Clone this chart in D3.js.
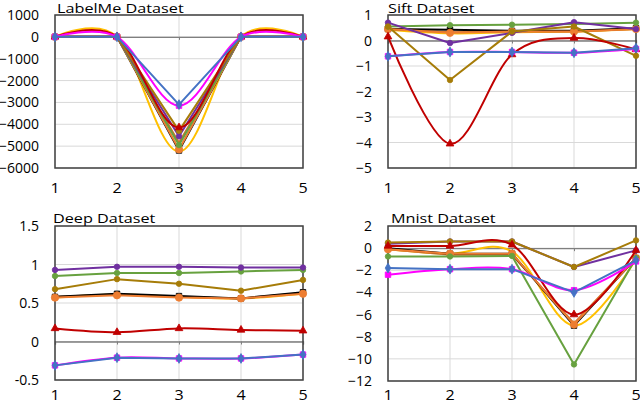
<!DOCTYPE html>
<html><head><meta charset="utf-8">
<script src="https://cdn.jsdelivr.net/npm/d3@7"></script>
<style>html,body{margin:0;padding:0;background:#fff;}svg{display:block;font-family:"Open Sans",sans-serif;}</style>
</head><body>
<svg id="c" width="640" height="404"></svg>
<script>
const categories = [1, 2, 3, 4, 5];
const seriesKeys = ["s1", "s2", "s3", "s4", "s5", "s6", "s7", "s8", "s9", "s10"];

// values per dataset, in seriesKeys order
const labelmeValues = [
  [0, 0, -3100, 0, 0],
  [0, 0, -3150, 0, 0],
  [0, 0, -4150, 0, 0],
  [0, 0, -4300, 0, 0],
  [0, 0, -4550, 0, 0],
  [0, 0, -4950, 0, 0],
  [0, 0, -5200, 0, 0],
  [0, 0, -5150, 0, 0],
  [0, 0, -5250, 0, 0],
  [0, 0, -4850, 0, 0]
];
const siftValues = [
  [-0.62, -0.45, -0.45, -0.48, -0.30],
  [-0.62, -0.45, -0.45, -0.48, -0.33],
  [0.15, -4.05, -0.55, 0.10, -0.35],
  [0.55, -1.55, 0.35, 0.55, -0.60],
  [0.70, -0.10, 0.30, 0.72, 0.45],
  [0.55, 0.60, 0.62, 0.65, 0.70],
  [0.45, 0.42, 0.38, 0.38, 0.48],
  [0.45, 0.30, 0.35, 0.35, 0.45],
  [0.42, 0.28, 0.32, 0.35, 0.45],
  [0.45, 0.32, 0.35, 0.35, 0.45]
];
const deepValues = [
  [-0.31, -0.21, -0.22, -0.22, -0.17],
  [-0.31, -0.21, -0.22, -0.22, -0.17],
  [0.17, 0.12, 0.17, 0.15, 0.14],
  [0.68, 0.81, 0.75, 0.66, 0.80],
  [0.93, 0.97, 0.97, 0.96, 0.96],
  [0.85, 0.89, 0.89, 0.91, 0.93],
  [0.58, 0.62, 0.59, 0.56, 0.64],
  [0.57, 0.60, 0.57, 0.56, 0.62],
  [0.57, 0.61, 0.58, 0.56, 0.62],
  [0.58, 0.61, 0.58, 0.56, 0.63]
];
const mnistValues = [
  [-1.8, -1.9, -1.9, -4.0, -1.1],
  [-2.4, -1.9, -1.9, -3.8, -1.2],
  [0.2, 0.2, 0.3, -6.0, -0.2],
  [0.5, 0.6, 0.6, -1.7, 0.7],
  [0.4, 0.6, 0.6, -1.7, -0.2],
  [-0.75, -0.75, -0.7, -10.5, -0.9],
  [0.0, -0.5, -0.5, -7.0, -0.9],
  [-0.1, -0.5, -0.5, -6.9, -0.9],
  [-0.1, -0.5, -0.3, -7.0, -1.0],
  [-0.1, -0.6, -0.6, -6.8, -0.9]
];

const titles = ["LabelMe Dataset", "Sift Dataset", "Deep Dataset", "Mnist Dataset"];
const labelmeTicks = [1000, 0, -1000, -2000, -3000, -4000, -5000, -6000];
const siftTicks = [1, 0, -1, -2, -3, -4, -5];
const deepTicks = [1.5, 1, 0.5, 0, -0.5];
const mnistTicks = [2, 0, -2, -4, -6, -8, -10, -12];

// styles (kept separate from data)
const style = {
  s1:  {color: "#4472C4", marker: "diamond", smooth: false},
  s2:  {color: "#FF00FF", marker: "square", smooth: true},
  s3:  {color: "#C00000", marker: "triangle", smooth: true},
  s4:  {color: "#A67C08", marker: "circle", smooth: false},
  s5:  {color: "#7030A0", marker: "circle", smooth: false},
  s6:  {color: "#67A13F", marker: "circle", smooth: false},
  s7:  {color: "#000000", marker: "square", smooth: false},
  s8:  {color: "#ED7D31", marker: "bigcircle", smooth: false},
  s9:  {color: "#FFC000", marker: null, smooth: true},
  s10: {color: "#C8712C", marker: null, smooth: false}
};
const drawOrder = ["s9", "s10", "s7", "s8", "s6", "s5", "s4", "s3", "s2", "s1"];

const panels = [
  {title: titles[0], values: labelmeValues, ticks: labelmeTicks, box: {l: 55, r: 303, t: 15, b: 168}, titleX: 57, titleY: 13, xLabelY: 193, fmt: d3.format("d")},
  {title: titles[1], values: siftValues, ticks: siftTicks, box: {l: 388, r: 636, t: 15, b: 168}, titleX: 388, titleY: 13, xLabelY: 193, fmt: d3.format("d")},
  {title: titles[2], values: deepValues, ticks: deepTicks, box: {l: 55, r: 303, t: 226, b: 380}, titleX: 53, titleY: 223, xLabelY: 399.5, fmt: d => String(d)},
  {title: titles[3], values: mnistValues, ticks: mnistTicks, box: {l: 388, r: 636, t: 226, b: 381}, titleX: 391, titleY: 223, xLabelY: 399.5, fmt: d3.format("d")}
];

const svg = d3.select("#c");

panels.forEach(p => {
  const B = p.box;
  const x = d3.scalePoint().domain(categories).range([B.l, B.r]);
  const y = d3.scaleLinear().domain(d3.extent(p.ticks)).range([B.b, B.t]);
  const g = svg.append("g");

  // gridlines
  g.append("g").selectAll("line").data(p.ticks).join("line")
    .attr("x1", B.l).attr("x2", B.r).attr("y1", d => y(d)).attr("y2", d => y(d))
    .attr("stroke", "#d9d9d9").attr("stroke-width", 1);
  g.append("g").selectAll("line").data(categories).join("line")
    .attr("x1", d => x(d)).attr("x2", d => x(d)).attr("y1", B.t).attr("y2", B.b)
    .attr("stroke", "#d9d9d9").attr("stroke-width", 1);

  // zero axis with ticks
  const zeroAxis = d3.axisBottom(x).tickSize(3).tickFormat("");
  const za = g.append("g").attr("transform", `translate(0,${y(0)})`).call(zeroAxis);
  za.select(".domain").attr("stroke", "#7f7f7f").attr("stroke-width", 1.3);
  za.selectAll(".tick line").attr("stroke", "#7f7f7f");

  // frame
  g.append("rect").attr("x", B.l).attr("y", B.t).attr("width", B.r - B.l).attr("height", B.b - B.t)
    .attr("fill", "none").attr("stroke", "#404040").attr("stroke-width", 1.5);

  // y axis labels
  g.append("g").selectAll("text").data(p.ticks).join("text")
    .attr("x", B.l - 16).attr("y", d => y(d) + 5)
    .attr("text-anchor", "end").attr("font-size", 14).attr("fill", "#000")
    .text(p.fmt);

  // x axis labels
  g.append("g").selectAll("text").data(categories).join("text")
    .attr("transform", d => `translate(${x(d)},${p.xLabelY}) scale(1.15,1)`)
    .attr("text-anchor", "middle").attr("font-size", 14).attr("fill", "#000")
    .text(d => d);

  // title
  g.append("text").attr("transform", `translate(${p.titleX},${p.titleY}) scale(1.33,1)`).text(p.title)
    .attr("font-size", 12.2).attr("fill", "#000");

  // series
  drawOrder.forEach(k => {
    const idx = seriesKeys.indexOf(k);
    const st = style[k];
    const data = p.values[idx].map((v, i) => [categories[i], v]);
    const line = d3.line().x(d => x(d[0])).y(d => y(d[1]))
      .curve(st.smooth ? d3.curveCardinal.tension(0) : d3.curveLinear);
    g.append("path").datum(data).attr("d", line).attr("fill", "none")
      .attr("stroke", st.color).attr("stroke-width", 2).attr("stroke-linejoin", "round");
    if (st.marker) {
      const symType = {circle: d3.symbolCircle, bigcircle: d3.symbolCircle, square: d3.symbolSquare,
                       triangle: d3.symbolTriangle, diamond: d3.symbolDiamond}[st.marker];
      const size = {circle: 24, bigcircle: 42, square: 30, triangle: 26, diamond: 28}[st.marker];
      g.append("g").selectAll("path").data(data).join("path")
        .attr("transform", d => `translate(${x(d[0])},${y(d[1])})`)
        .attr("d", d3.symbol().type(symType).size(size))
        .attr("fill", st.color).attr("stroke", st.color).attr("stroke-width", 0.8);
    }
  });
});
</script>
</body></html>
